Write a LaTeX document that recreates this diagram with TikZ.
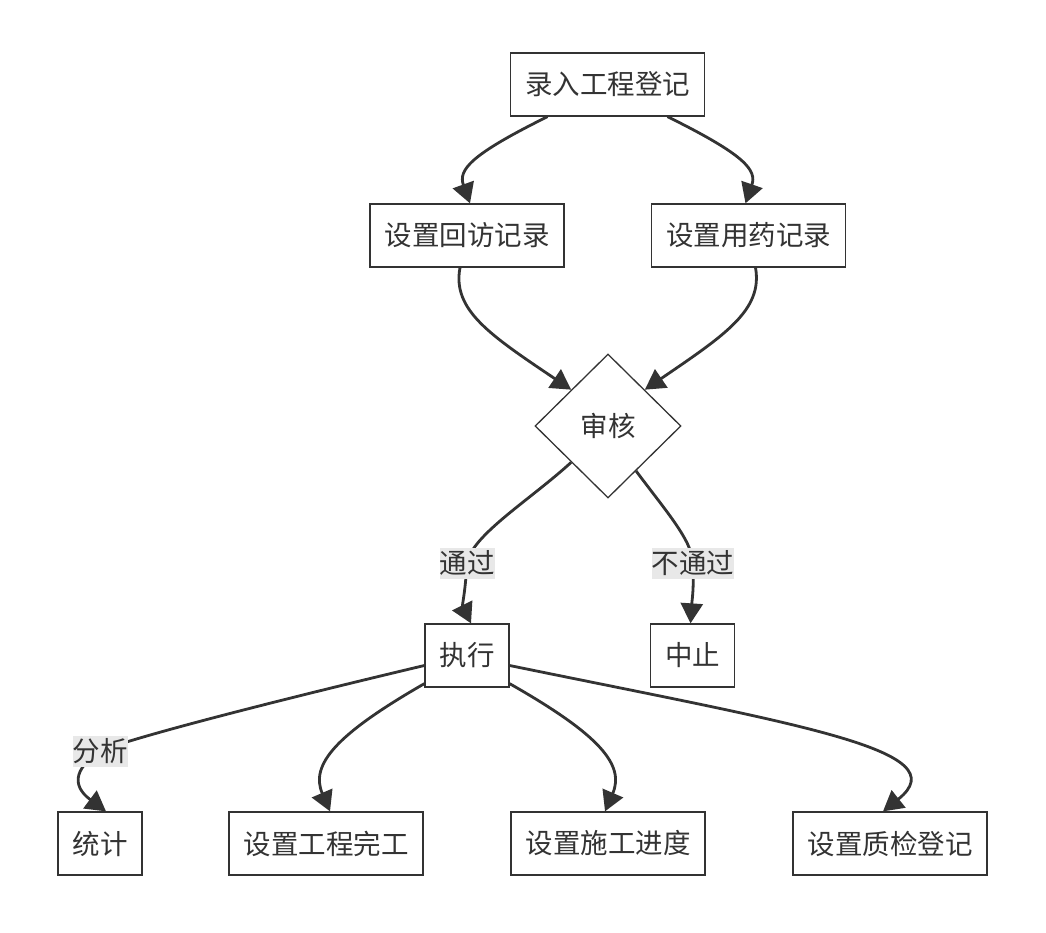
\documentclass[tikz,border=0pt]{standalone}
\usepackage{fontspec}
\setmainfont{Noto Sans CJK SC}
\usetikzlibrary{shapes.geometric, arrows.meta}
\definecolor{ink}{HTML}{333333}
\definecolor{lblgray}{HTML}{E8E8E8}
\newcommand{\flowfont}{\fontsize{27.5}{33}\selectfont}

\begin{document}
\begin{tikzpicture}[x=1pt, y=-1pt,
    box/.style={draw=ink, line width=1.3pt, rectangle, minimum height=63pt, inner xsep=14.5pt, text=ink, font=\flowfont},
    check/.style={draw=ink, line width=1.3pt, diamond, minimum width=146pt, minimum height=144pt, inner sep=0pt, text=ink, font=\flowfont},
    edge/.style={draw=ink, line width=2.8pt, -{Triangle[length=20pt, width=22pt]}},
    lbl/.style={fill=lblgray, inner sep=0pt, minimum height=31pt, text=ink, font=\flowfont}]
    \useasboundingbox (0,0) rectangle (1046,932);

    % Nodes
    \node[box] (luru) at (607.5, 84.5) {录入工程登记};
    \node[box] (huifang) at (467, 235.5) {设置回访记录};
    \node[box] (yongyao) at (748.5, 235.5) {设置用药记录};
    \node[check] (shenhe) at (608, 426) {审核};
    \node[box] (zhixing) at (467, 655.5) {执行};
    \node[box] (zhongzhi) at (692.5, 655.5) {中止};
    \node[box] (tongji) at (100, 843.5) {统计};
    \node[box] (wangong) at (326, 843.5) {设置工程完工};
    \node[box] (jindu) at (608, 843.5) {设置施工进度};
    \node[box] (zhijian) at (890, 843.5) {设置质检登记};

    % Connectors
    \draw[edge] ([xshift=-60pt]luru.south) .. controls (470,155) and (458,170) .. ([xshift=3pt]huifang.north);
    \draw[edge] ([xshift=60pt]luru.south) .. controls (745,155) and (757,170) .. ([xshift=-3pt]yongyao.north);
    \draw[edge] ([xshift=-7pt]huifang.south) .. controls (452,310) and (490,335) .. (shenhe.north west);
    \draw[edge] ([xshift=7pt]yongyao.south) .. controls (763,310) and (725,335) .. (shenhe.north east);
    \draw[edge] (shenhe.south west) .. controls (530,500) and (472,535) .. (467,563) node[lbl] {通过}
        .. controls (465,595) and (462,605) .. ([xshift=4pt]zhixing.north);
    \draw[edge] (shenhe.-58) .. controls (665,510) and (692,540) .. (693,563) node[lbl] {不通过}
        .. controls (694,590) and (692,600) .. ([xshift=-2pt]zhongzhi.north);
    \draw[edge] ([yshift=-10pt]zhixing.west) .. controls (300,695) and (140,735) .. (100,751) node[lbl] {分析}
        .. controls (65,775) and (80,792) .. ([xshift=6pt]tongji.north);
    \draw[edge] ([yshift=4pt]zhixing.south west) .. controls (335,735) and (310,765) .. ([xshift=4pt]wangong.north);
    \draw[edge] ([yshift=4pt]zhixing.south east) .. controls (600,735) and (625,765) .. ([xshift=-3pt]jindu.north);
    \draw[edge] ([yshift=-10pt]zhixing.east) .. controls (800,725) and (960,750) .. ([xshift=-7pt]zhijian.north);
\end{tikzpicture}
\end{document}
